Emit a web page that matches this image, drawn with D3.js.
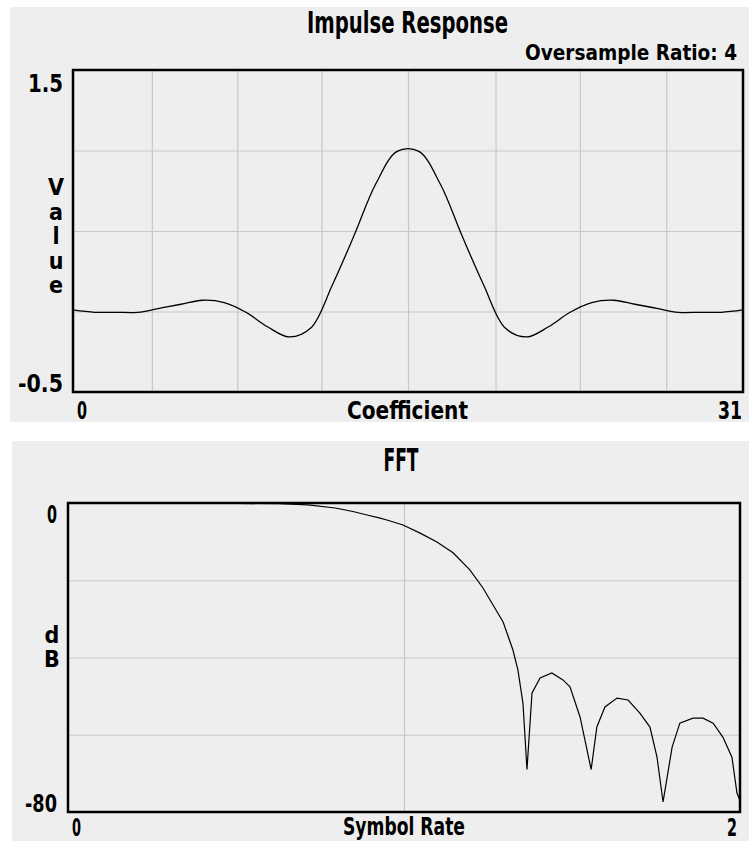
<!DOCTYPE html>
<html>
<head>
<meta charset="utf-8">
<script src="https://cdn.jsdelivr.net/npm/d3@7"></script>
<style>
  body { margin: 0; background: #ffffff; }
  svg text { font-family: "Liberation Sans Narrow", "DejaVu Sans Condensed", sans-serif; font-weight: bold; fill: #000; }
  .grid line { stroke: #c8c8c8; stroke-width: 1.2; }
  .grid path { display: none; }
</style>
</head>
<body>
<svg id="chart" width="749" height="841"></svg>
<script>
    //////////// DATA ////////////

    // impulse response, one value per filter coefficient (0..31)
    var impulseValues = [0.01, -0.005, -0.005, -0.005, 0.02, 0.045, 0.07, 0.055,
        -0.005, -0.095, -0.158, -0.103, 0.165, 0.47, 0.79, 0.995,
        0.995, 0.79, 0.47, 0.165, -0.103, -0.158, -0.095, -0.005,
        0.055, 0.07, 0.045, 0.02, -0.005, -0.005, -0.005, 0.01];
    var impulseGrid = [3.65, 7.6, 11.5, 15.5, 19.55, 23.45, 27.45];
    var impulseYTicks = ["1.5", "-0.5"];
    var impulseXTicks = ["0", "31"];

    // FFT magnitude, frequency in symbol rate units vs dB
    var fftFreq = [0, 0.393, 0.631, 0.714, 0.795, 0.848, 0.89, 0.929, 0.949, 0.997,
        1.048, 1.098, 1.146, 1.196, 1.235, 1.265, 1.295, 1.324, 1.339, 1.354,
        1.366, 1.381, 1.405, 1.44, 1.473, 1.494, 1.524, 1.557, 1.574, 1.598,
        1.634, 1.667, 1.702, 1.732, 1.753, 1.771, 1.798, 1.821, 1.86, 1.89,
        1.92, 1.949, 1.976, 1.991, 2.0];
    var fftDb = [0, 0, -0.2, -0.5, -1.3, -2.2, -3.1, -3.9, -4.4, -5.7,
        -7.8, -10.1, -12.9, -17.3, -22, -26.4, -30.8, -38, -43.2, -51.8,
        -69, -49.2, -45.3, -44, -45.8, -47.6, -55.4, -69, -58, -52.8,
        -50.5, -51, -54.4, -58, -65.8, -77.4, -63.2, -57, -55.7, -55.7,
        -57, -60.6, -65.8, -75.1, -77];
    var fftYTicks = ["0", "-80"];
    var fftXTicks = ["0", "2"];

    var svg = d3.select("#chart");

    //////////// PANEL BACKGROUNDS ////////////

    svg.append("rect").attr("x", 10).attr("y", 7).attr("width", 739).attr("height", 415).attr("fill", "#eeeeee");
    svg.append("rect").attr("x", 12).attr("y", 441).attr("width", 737).attr("height", 400).attr("fill", "#eeeeee");

    // helper: text squeezed to a measured width
    function label(x, y, txt, anchor, len, size) {
        var t = svg.append("text")
            .attr("x", x)
            .attr("y", y)
            .attr("text-anchor", anchor)
            .style("font-size", size + "px")
            .text(txt);
        if (len) t.attr("textLength", len).attr("lengthAdjust", "spacingAndGlyphs");
        return t;
    }

    // letters stacked one under another, kept in one text element
    function stacked(x, y, letters, step, size) {
        var t = svg.append("text")
            .attr("text-anchor", "middle")
            .style("font-size", size + "px");
        letters.forEach(function (c, i) {
            t.append("tspan")
                .attr("x", x)
                .attr("y", y + i * step)
                .text(c);
        });
    }

    //////////// IMPULSE RESPONSE ////////////

    var top1 = {left: 73, right: 743, top: 70, bottom: 392};
    var x1 = d3.scaleLinear().domain([0, 31]).range([top1.left, top1.right]);
    var y1 = d3.scaleLinear().domain([-0.5, 1.5]).range([top1.bottom, top1.top]);

    // grid
    svg.append("g")
        .attr("class", "grid")
        .attr("transform", "translate(0," + top1.bottom + ")")
        .call(d3.axisBottom(x1)
            .tickValues(impulseGrid)
            .tickSize(-(top1.bottom - top1.top))
            .tickFormat(""));
    svg.append("g")
        .attr("class", "grid")
        .attr("transform", "translate(" + top1.left + ",0)")
        .call(d3.axisLeft(y1)
            .tickValues([0, 0.5, 1.0])
            .tickSize(-(top1.right - top1.left))
            .tickFormat(""));

    svg.append("path")
        .datum(impulseValues)
        .attr("fill", "none")
        .attr("stroke", "#000")
        .attr("stroke-width", 1.3)
        .attr("d", d3.line()
            .x(function (d, i) { return x1(i); })
            .y(function (d) { return y1(d); })
            .curve(d3.curveCatmullRom.alpha(0.5)));

    svg.append("rect")
        .attr("x", top1.left).attr("y", top1.top)
        .attr("width", top1.right - top1.left).attr("height", top1.bottom - top1.top)
        .attr("fill", "none").attr("stroke", "#000").attr("stroke-width", 2.5);

    label(407.5, 33, "Impulse Response", "middle", 201, 31);
    label(737, 60, "Oversample Ratio: 4", "end", 212, 21);
    label(63, y1(1.5) + 22, impulseYTicks[0], "end", 35, 25);
    label(63, y1(-0.5), impulseYTicks[1], "end", 45, 25);
    label(77, 419, impulseXTicks[0], "start", 10, 25);
    label(742, 419, impulseXTicks[1], "end", 24, 25);
    label(407.5, 419, "Coefficient", "middle", 121, 25);

    stacked(56, 195, ["V", "a", "l", "u", "e"], 24.5, 23);

    //////////// FFT ////////////

    var bot = {left: 68, right: 740, top: 503, bottom: 812};
    var x2 = d3.scaleLinear().domain([0, 2]).range([bot.left, bot.right]);
    var y2 = d3.scaleLinear().domain([-80, 0]).range([bot.bottom, bot.top]);

    svg.append("g")
        .attr("class", "grid")
        .attr("transform", "translate(0," + bot.bottom + ")")
        .call(d3.axisBottom(x2)
            .tickValues([1])
            .tickSize(-(bot.bottom - bot.top))
            .tickFormat(""));
    svg.append("g")
        .attr("class", "grid")
        .attr("transform", "translate(" + bot.left + ",0)")
        .call(d3.axisLeft(y2)
            .tickValues([-60, -40, -20])
            .tickSize(-(bot.right - bot.left))
            .tickFormat(""));

    svg.append("path")
        .datum(fftFreq)
        .attr("fill", "none")
        .attr("stroke", "#000")
        .attr("stroke-width", 1.2)
        .attr("d", d3.line()
            .x(function (d) { return x2(d); })
            .y(function (d, i) { return y2(fftDb[i]); }));

    svg.append("rect")
        .attr("x", bot.left).attr("y", bot.top)
        .attr("width", bot.right - bot.left).attr("height", bot.bottom - bot.top)
        .attr("fill", "none").attr("stroke", "#000").attr("stroke-width", 2.5);

    label(401, 471, "FFT", "middle", 35, 32);
    label(57, y2(0) + 20, fftYTicks[0], "end", 10, 25);
    label(57, y2(-80), fftYTicks[1], "end", 32, 25);
    label(72, 836, fftXTicks[0], "start", 9, 25);
    label(737, 836, fftXTicks[1], "end", 10, 25);
    label(404, 835, "Symbol Rate", "middle", 122, 25);

    stacked(52, 643, ["d", "B"], 24, 23);
</script>
</body>
</html>
